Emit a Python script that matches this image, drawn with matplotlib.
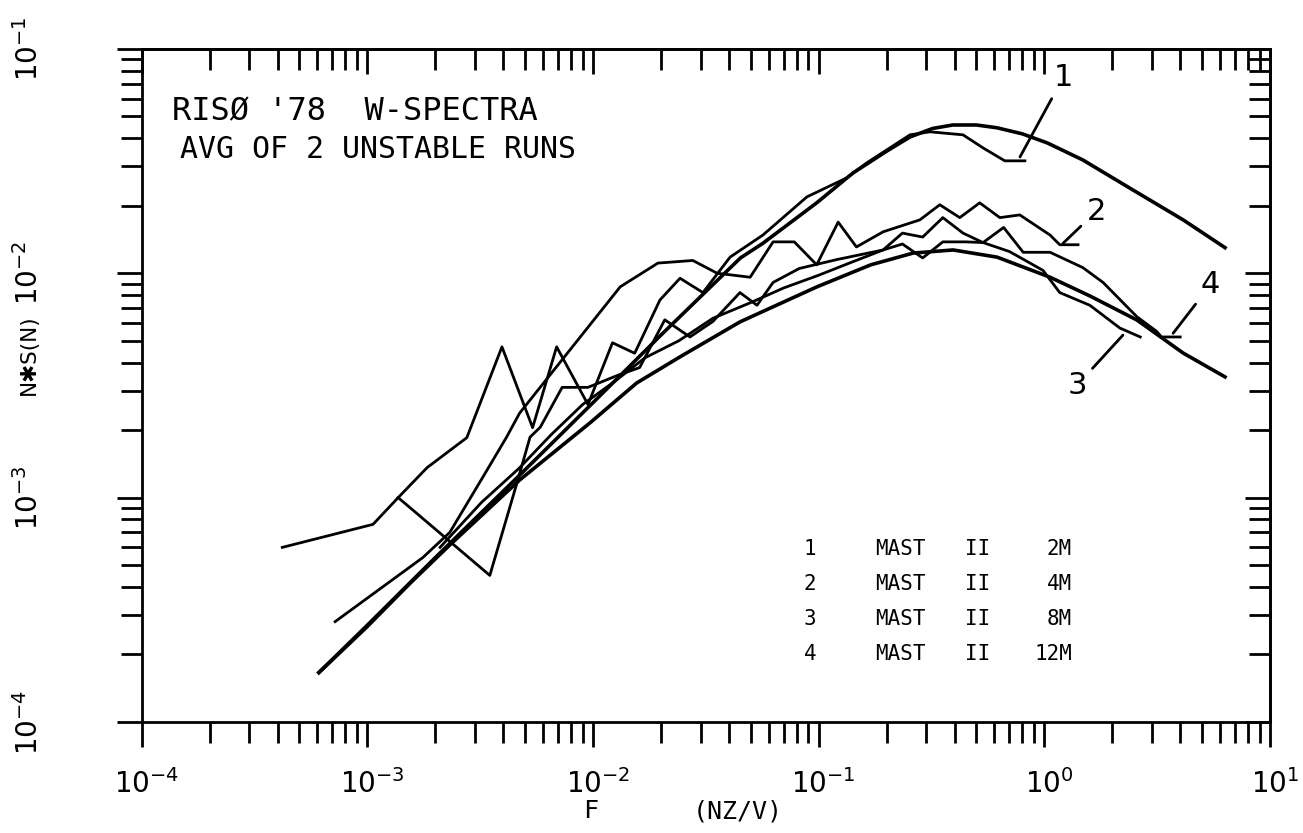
import numpy as np
import matplotlib
matplotlib.use("Agg")
import matplotlib.pyplot as plt
import matplotlib.transforms as mtransforms
from matplotlib.ticker import LogLocator, NullFormatter

freq_2m = [4.2e-4, 1.06e-3, 1.37e-3, 1.84e-3, 2.76e-3, 3.95e-3, 5.4e-3, 6.9e-3, 9.5e-3, 0.0122,
           0.0153, 0.0198, 0.0243, 0.0307, 0.0405, 0.0566, 0.0887, 0.133, 0.163, 0.254, 0.311,
           0.436, 0.535, 0.668, 0.82]
ns_2m = [6.0e-4, 7.6e-4, 1.0e-3, 1.36e-3, 1.85e-3, 4.7e-3, 2.05e-3, 4.7e-3, 2.6e-3, 4.9e-3,
         4.4e-3, 7.6e-3, 9.5e-3, 8.2e-3, 0.0118, 0.0148, 0.0219, 0.0266, 0.031, 0.0414, 0.0427,
         0.0414, 0.0362, 0.0317, 0.0317]

freq_4m = [7.2e-4, 1.76e-3, 2.32e-3, 3.26e-3, 4.14e-3, 4.73e-3, 0.0132, 0.0194, 0.0277, 0.0355,
           0.0497, 0.0628, 0.078, 0.098, 0.122, 0.147, 0.193, 0.281, 0.344, 0.422, 0.517, 0.635,
           0.778, 1.06, 1.17, 1.41]
ns_4m = [2.8e-4, 5.4e-4, 7.0e-4, 1.24e-3, 1.86e-3, 2.38e-3, 8.7e-3, 0.0111, 0.0114, 0.0100,
         9.6e-3, 0.0138, 0.0138, 0.0109, 0.0169, 0.0131, 0.0153, 0.0173, 0.0202, 0.0177, 0.0206,
         0.0177, 0.0182, 0.0148, 0.0134, 0.0134]

freq_8m = [1.37e-3, 3.49e-3, 4.6e-3, 5.26e-3, 5.84e-3, 7.3e-3, 9.5e-3, 0.0128, 0.0161, 0.0208,
           0.0269, 0.034, 0.0448, 0.0533, 0.0628, 0.082, 0.12, 0.193, 0.235, 0.289, 0.355, 0.45,
           0.535, 0.7, 0.986, 1.17, 1.59, 2.16, 2.66]
ns_8m = [1.0e-3, 4.5e-4, 1.16e-3, 1.86e-3, 2.06e-3, 3.1e-3, 3.1e-3, 3.5e-3, 3.8e-3, 6.2e-3,
         5.2e-3, 6.1e-3, 8.2e-3, 7.2e-3, 9.1e-3, 0.0105, 0.0115, 0.0127, 0.0135, 0.0117, 0.0138,
         0.0138, 0.0137, 0.0125, 0.0103, 8.2e-3, 7.2e-3, 5.7e-3, 5.2e-3]

freq_12m = [2.1e-3, 3.2e-3, 4.7e-3, 6.5e-3, 9.0e-3, 0.0125, 0.017, 0.024, 0.034, 0.05, 0.07, 0.1,
            0.14, 0.193, 0.235, 0.289, 0.355, 0.436, 0.535, 0.66, 0.806, 1.06, 1.48, 1.82, 2.57,
            3.15, 3.3, 4.0]
ns_12m = [6.0e-4, 9.5e-4, 1.35e-3, 1.9e-3, 2.6e-3, 3.3e-3, 4.2e-3, 5.0e-3, 6.3e-3, 7.4e-3, 8.6e-3,
          9.8e-3, 0.0112, 0.0127, 0.0151, 0.0145, 0.0177, 0.0151, 0.0137, 0.016, 0.0124, 0.0124,
          0.0106, 9.1e-3, 6.4e-3, 5.5e-3, 5.2e-3, 5.2e-3]

# the two smooth reference curves
freq_up = [6.1e-4, 1e-3, 2e-3, 5e-3, 0.01, 0.02, 0.045, 0.0566, 0.098, 0.142, 0.2, 0.254, 0.32,
           0.393, 0.5, 0.617, 0.8, 1.03, 1.48, 2.47, 4.12, 6.32]
ns_up = [1.66e-4, 2.7e-4, 5.4e-4, 1.33e-3, 2.65e-3, 5.3e-3, 0.0117, 0.0136, 0.0206, 0.028,
         0.035, 0.0405, 0.0442, 0.0458, 0.0458, 0.0445, 0.0418, 0.0381, 0.032, 0.0235, 0.0173,
         0.013]
freq_lo = [6.1e-4, 9.95e-4, 1.55e-3, 2.32e-3, 4.74e-3, 9.68e-3, 0.0156, 0.0243, 0.0448, 0.098,
           0.17, 0.262, 0.394, 0.617, 1.06, 1.6, 2.57, 4.12, 6.32]
ns_lo = [1.66e-4, 2.65e-4, 4.16e-4, 6.15e-4, 1.2e-3, 2.15e-3, 3.24e-3, 4.24e-3, 6.07e-3, 8.69e-3,
         0.0109, 0.0123, 0.0127, 0.0118, 9.6e-3, 7.9e-3, 6.19e-3, 4.41e-3, 3.45e-3]

x_decades = [1e-4, 1e-3, 1e-2, 1e-1, 1e0, 1e1]
x_ticklabels = ['$10^{-4}$', '$10^{-3}$', '$10^{-2}$', '$10^{-1}$', '$10^{0}$', '$10^{1}$']
y_decades = [1e-4, 1e-3, 1e-2, 1e-1]
y_ticklabels = ['$10^{-4}$', '$10^{-3}$', '$10^{-2}$', '$10^{-1}$']

legend_num = ['1', '2', '3', '4']
legend_height = ['2M', '4M', '8M', '12M']

mono = 'DejaVu Sans Mono'
plt.rcParams['mathtext.fontset'] = 'dejavusans'

fig = plt.figure(figsize=(13.03, 8.33), dpi=100)
ax = fig.add_axes([0.1087, 0.1333, 0.8660, 0.8080])
ax.set_xscale('log')
ax.set_yscale('log')
ax.set_xlim(1e-4, 10)
ax.set_ylim(1e-4, 1e-1)

for f, s in [(freq_2m, ns_2m), (freq_4m, ns_4m), (freq_8m, ns_8m), (freq_12m, ns_12m)]:
    ax.plot(f, s, color='black', lw=2.0)
ax.plot(freq_up, ns_up, color='black', lw=2.6)
ax.plot(freq_lo, ns_lo, color='black', lw=2.6)

# ticks: left/bottom point outward, top/right point inward
for spine in ax.spines.values():
    spine.set_linewidth(2.0)
ax.xaxis.set_major_locator(LogLocator(base=10, numticks=10))
ax.xaxis.set_minor_locator(LogLocator(base=10, subs=np.arange(2, 10), numticks=50))
ax.yaxis.set_major_locator(LogLocator(base=10, numticks=10))
ax.yaxis.set_minor_locator(LogLocator(base=10, subs=np.arange(2, 10), numticks=50))
for axis in (ax.xaxis, ax.yaxis):
    axis.set_major_formatter(NullFormatter())
    axis.set_minor_formatter(NullFormatter())
ax.tick_params(which='major', direction='out', length=18, width=2.0)
ax.tick_params(which='minor', direction='out', length=15, width=2.0)

top = ax.secondary_xaxis('top')
right = ax.secondary_yaxis('right')
for sec, axis in ((top, top.xaxis), (right, right.yaxis)):
    axis.set_major_locator(LogLocator(base=10, numticks=10))
    axis.set_minor_locator(LogLocator(base=10, subs=np.arange(2, 10), numticks=50))
    axis.set_major_formatter(NullFormatter())
    axis.set_minor_formatter(NullFormatter())
    sec.tick_params(which='major', direction='in', length=18, width=2.0)
    sec.tick_params(which='minor', direction='in', length=15, width=2.0)
    for spine in sec.spines.values():
        spine.set_linewidth(2.0)

# decade labels, nudged so the "10" sits close to its tick
xtrans = mtransforms.offset_copy(
    mtransforms.blended_transform_factory(ax.transData, ax.transAxes), fig=fig, x=5, y=0, units='dots')
for v, lab in zip(x_decades, x_ticklabels):
    ax.text(v, -0.105, lab, transform=xtrans, fontsize=20, ha='center', va='baseline', clip_on=False)
ytrans = mtransforms.blended_transform_factory(ax.transAxes, ax.transData)
for v, lab in zip(y_decades, y_ticklabels):
    ax.text(-0.092, v, lab, transform=ytrans, fontsize=20, rotation=90, rotation_mode='anchor',
            ha='center', va='baseline', clip_on=False)

# axis titles
fig.text(0.453, 0.018, 'F', family=mono, fontsize=18, ha='center', va='baseline')
fig.text(0.566, 0.018, '(NZ/V)', family=mono, fontsize=18, ha='center', va='baseline')
fig.text(0.022, 0.574, 'N\u2731S(N)', fontsize=15.5, rotation=90, ha='center', va='center')

# header text
ax.text(0.027, 0.8945, "RIS\u00d8 '78  W-SPECTRA", transform=ax.transAxes, family=mono,
        fontsize=23, va='baseline')
ax.text(0.034, 0.838, 'AVG OF 2 UNSTABLE RUNS', transform=ax.transAxes, family=mono,
        fontsize=21.5, va='baseline')

# legend block
rows_y = [0.2571, 0.2051, 0.1530, 0.1010]
for num, hgt, yy in zip(legend_num, legend_height, rows_y):
    ax.text(0.5923, yy, num, transform=ax.transAxes, family=mono, fontsize=15, ha='center', va='center')
    ax.text(0.6499, yy, 'MAST', transform=ax.transAxes, family=mono, fontsize=15, va='center')
    ax.text(0.7297, yy, 'II', transform=ax.transAxes, family=mono, fontsize=15, va='center')
    ax.text(0.8245, yy, hgt, transform=ax.transAxes, family=mono, fontsize=15, ha='right', va='center')

# curve labels with leader lines
leader = dict(arrowstyle='-', lw=2.0, color='black', shrinkA=3, shrinkB=0)
ax.annotate('1', xy=(0.78, 0.033), xytext=(31, 57), textcoords='offset points',
            fontsize=22, ha='center', va='center', arrowprops=leader)
ax.annotate('2', xy=(1.21, 0.0136), xytext=(24, 23), textcoords='offset points',
            fontsize=22, ha='center', va='center', arrowprops=leader)
ax.annotate('3', xy=(2.23, 5.3e-3), xytext=(-33, -36), textcoords='offset points',
            fontsize=22, ha='center', va='center', arrowprops=leader)
ax.annotate('4', xy=(3.72, 5.4e-3), xytext=(27, 35), textcoords='offset points',
            fontsize=22, ha='center', va='center', arrowprops=leader)

fig.savefig('out.png', dpi=100)
